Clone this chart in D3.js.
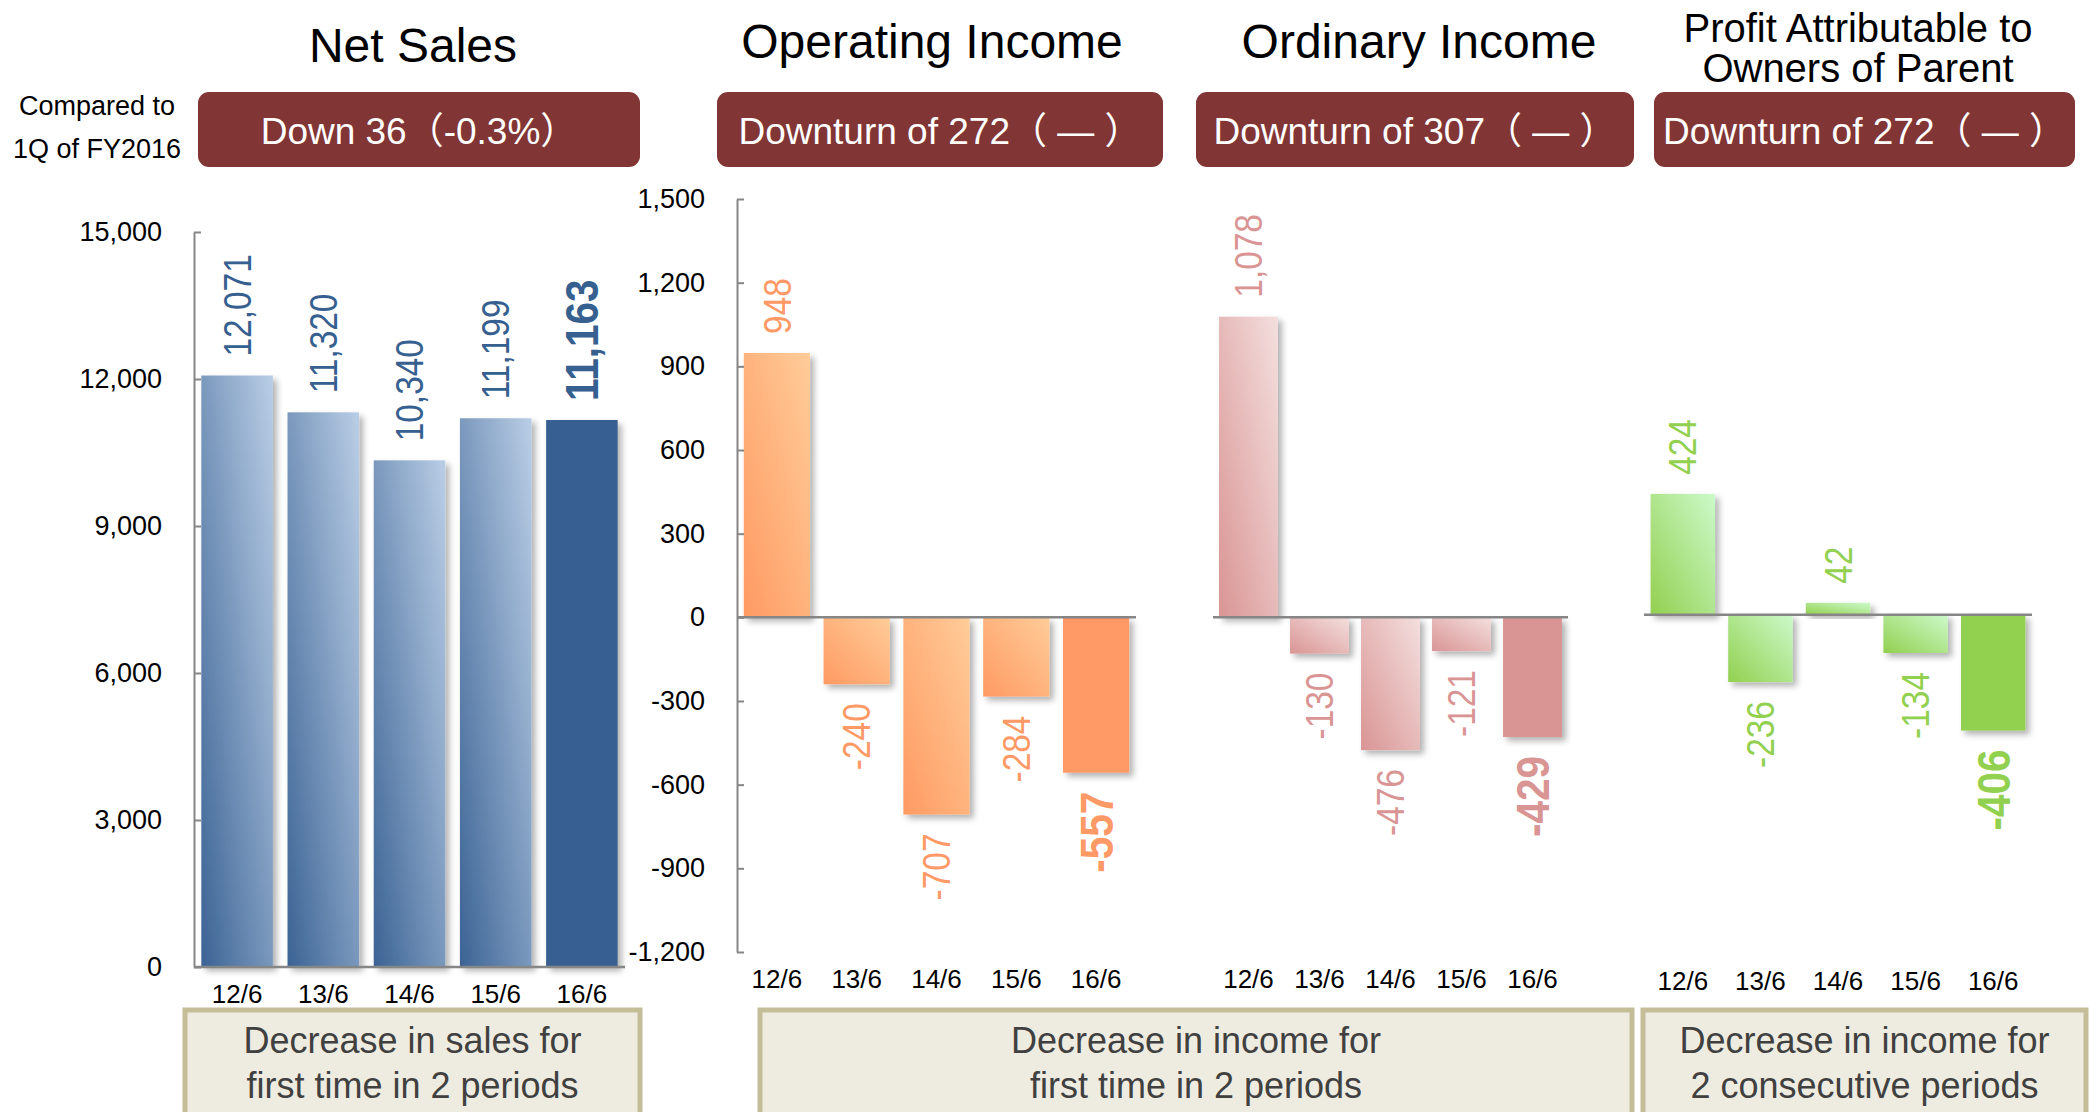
<!DOCTYPE html>
<html>
<head>
<meta charset="utf-8">
<script src="https://cdn.jsdelivr.net/npm/d3@7"></script>
<style>
  html, body { margin: 0; padding: 0; background: #fff; }
  svg { display: block; font-family: "Liberation Sans", Arial, sans-serif; }
</style>
</head>
<body>
<div id="chart"></div>
<script>
// Quarterly results, 1Q (April-June) of each fiscal year
const periods = ["12/6", "13/6", "14/6", "15/6", "16/6"];
const netSales = [12071, 11320, 10340, 11199, 11163];
const operatingIncome = [948, -240, -707, -284, -557];
const ordinaryIncome = [1078, -130, -476, -121, -429];
const profitParent = [424, -236, 42, -134, -406];

const salesTicks = [0, 3000, 6000, 9000, 12000, 15000];
const incomeTicks = [-1200, -900, -600, -300, 0, 300, 600, 900, 1200, 1500];

const titles = ["Net Sales", "Operating Income", "Ordinary Income", ["Profit Attributable to", "Owners of Parent"]];
const changeLabels = ["Down 36（-0.3%）", "Downturn of 272（ — ）", "Downturn of 307（ — ）", "Downturn of 272（ — ）"];
const compareLabel = ["Compared to", "1Q of FY2016"];
const notes = [
    ["Decrease in sales for", "first time in 2 periods"],
    ["Decrease in income for", "first time in 2 periods"],
    ["Decrease in income for", "2 consecutive periods"]
];

const width = 2089, height = 1112;
const fmt = d3.formatLocale({ decimal: ".", thousands: ",", grouping: [3], currency: ["", ""], minus: "-" }).format(",");

const svg = d3.select("#chart").append("svg")
    .attr("width", width)
    .attr("height", height);

const defs = svg.append("defs");

// soft shadow under the bars
const shadow = defs.append("filter").attr("id", "shadow")
    .attr("x", "-20%").attr("y", "-20%").attr("width", "150%").attr("height", "150%");
shadow.append("feDropShadow")
    .attr("dx", 4).attr("dy", 4).attr("stdDeviation", 3)
    .attr("flood-color", "#000").attr("flood-opacity", 0.3);

// Scales for each panel
const salesY = d3.scaleLinear().domain([0, 15000]).range([967, 232]);
const incomeY = d3.scaleLinear().domain([-1200, 1500]).range([952, 199]);
const profitY = d3.scaleLinear().domain([-1200, 1500]).range([957, 187]);

const panels = [
    { id: "sales", values: netSales, range: [194, 625], y: salesY, ticks: salesTicks, axis: true,
      dark: "#3B6394", light: "#BACEE6", solid: "#375F91", label: "#36608F", catY: 1003 },
    { id: "op", values: operatingIncome, range: [737, 1136], y: incomeY, ticks: incomeTicks, axis: true,
      dark: "#FF9A62", light: "#FFCC99", solid: "#FF9966", label: "#FF9966", catY: 988 },
    { id: "ord", values: ordinaryIncome, range: [1213, 1568], y: incomeY, axis: false,
      dark: "#D99594", light: "#F3DFDE", solid: "#D99594", label: "#D99594", catY: 988 },
    { id: "profit", values: profitParent, range: [1644, 2032], y: profitY, axis: false,
      dark: "#92D050", light: "#CCFACA", solid: "#92D050", label: "#92D050", catY: 990 }
];

panels.forEach(p => {
    const grad = defs.append("linearGradient").attr("id", "grad-" + p.id)
        .attr("x1", 0).attr("y1", 1).attr("x2", 1).attr("y2", 0);
    grad.append("stop").attr("offset", "0%").attr("stop-color", p.dark);
    grad.append("stop").attr("offset", "100%").attr("stop-color", p.light);

    const x = d3.scaleBand().domain(periods).range(p.range)
        .paddingInner(0.17).paddingOuter(0.085);
    const y = p.y;
    const g = svg.append("g");

    // bars
    g.selectAll("rect.bar")
        .data(p.values)
        .join("rect")
        .attr("class", "bar")
        .attr("x", (d, i) => x(periods[i]))
        .attr("width", x.bandwidth())
        .attr("y", d => Math.min(y(d), y(0)))
        .attr("height", d => Math.abs(y(d) - y(0)))
        .attr("fill", (d, i) => i === periods.length - 1 ? p.solid : `url(#grad-${p.id})`)
        .attr("filter", "url(#shadow)");

    // zero line
    g.append("line")
        .attr("x1", p.range[0]).attr("x2", p.range[1])
        .attr("y1", y(0)).attr("y2", y(0))
        .attr("stroke", "#868686").attr("stroke-width", 2.5);

    // y axis
    if (p.axis) {
        const ax = g.append("g")
            .attr("transform", `translate(${p.range[0]},0)`)
            .call(d3.axisLeft(y).tickValues(p.ticks).tickFormat(fmt)
                .tickSizeInner(-7).tickSizeOuter(0).tickPadding(32));
        ax.select(".domain").attr("stroke", "#868686").attr("stroke-width", 2);
        ax.selectAll(".tick line").attr("stroke", "#868686").attr("stroke-width", 2);
        ax.selectAll(".tick text")
            .attr("fill", "#000")
            .style("font-size", "27px")
            .style("font-family", "'Liberation Sans', Arial, sans-serif");
    }

    // category labels
    g.selectAll("text.cat")
        .data(periods)
        .join("text")
        .attr("class", "cat")
        .attr("x", d => x(d) + x.bandwidth() / 2)
        .attr("y", p.catY)
        .attr("text-anchor", "middle")
        .style("font-size", "26px")
        .attr("fill", "#000")
        .text(d => d);

    // value labels, rotated
    g.selectAll("text.val")
        .data(p.values)
        .join("text")
        .attr("class", "val")
        .attr("transform", (d, i) => {
            const cx = x(periods[i]) + x.bandwidth() / 2;
            const cy = d >= 0 ? y(d) - 19 : y(d) + 19;
            return `translate(${cx},${cy}) rotate(-90) scale(0.88,1)`;
        })
        .attr("text-anchor", d => d >= 0 ? "start" : "end")
        .attr("dy", "0.36em")
        .attr("fill", p.label)
        .style("font-size", (d, i) => i === periods.length - 1 ? "46px" : "38px")
        .style("font-weight", (d, i) => i === periods.length - 1 ? "bold" : "normal")
        .text(d => fmt(d));
});

// Panel titles
const titlePos = [
    { x: 413, y: 62 }, { x: 932, y: 58 }, { x: 1419, y: 58 }, { x: 1858, y: 42 }
];
titles.forEach((t, i) => {
    const lines = Array.isArray(t) ? t : [t];
    lines.forEach((l, j) => {
        svg.append("text")
            .attr("x", titlePos[i].x).attr("y", titlePos[i].y + j * 40)
            .attr("text-anchor", "middle")
            .attr("fill", "#000")
            .style("font-size", lines.length > 1 ? "40px" : "48px")
            .text(l);
    });
});

// "Compared to 1Q of FY2016"
compareLabel.forEach((l, j) => {
    svg.append("text")
        .attr("x", 97).attr("y", 115 + j * 43)
        .attr("text-anchor", "middle")
        .attr("fill", "#000")
        .style("font-size", "27px")
        .text(l);
});

// Dark red change boxes
const changeBoxes = [[198, 640], [717, 1163], [1196, 1634], [1654, 2075]];
changeBoxes.forEach((b, i) => {
    svg.append("rect")
        .attr("x", b[0]).attr("y", 92)
        .attr("width", b[1] - b[0]).attr("height", 75)
        .attr("rx", 11).attr("ry", 11)
        .attr("fill", "#823535");
    svg.append("text")
        .attr("x", (b[0] + b[1]) / 2).attr("y", 144)
        .attr("text-anchor", "middle")
        .attr("fill", "#fff")
        .style("font-size", "37px")
        .style("font-family", "'Liberation Sans', Arial, 'Noto Sans CJK JP', sans-serif")
        .text(changeLabels[i]);
});

// Beige comment boxes at the bottom
const noteBoxes = [[185, 640], [760, 1632], [1643, 2086]];
noteBoxes.forEach((b, i) => {
    svg.append("rect")
        .attr("x", b[0]).attr("y", 1010)
        .attr("width", b[1] - b[0]).attr("height", 130)
        .attr("fill", "#EEECE1")
        .attr("stroke", "#C4BD97").attr("stroke-width", 5);
    notes[i].forEach((l, j) => {
        svg.append("text")
            .attr("x", (b[0] + b[1]) / 2).attr("y", 1053 + j * 45)
            .attr("text-anchor", "middle")
            .attr("fill", "#404040")
            .style("font-size", "36px")
            .text(l);
    });
});
</script>
</body>
</html>
